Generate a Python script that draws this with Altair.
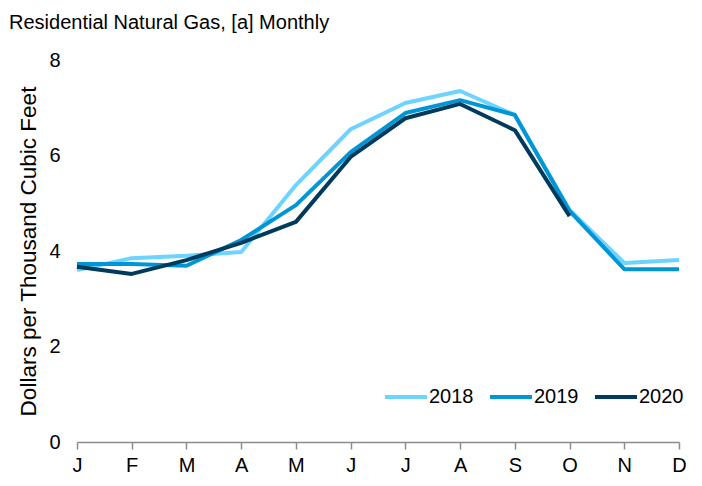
import altair as alt
import pandas as pd

months = ["J", "F", "M", "A", "M", "J", "J", "A", "S", "O", "N", "D"]
years = ["2018", "2019", "2020"]
colors = ["#6DD3FF", "#0096D6", "#003A5D"]
v2018 = [3.60, 3.85, 3.90, 3.98, 5.38, 6.55, 7.10, 7.35, 6.85, 4.86, 3.75, 3.81]
v2019 = [3.73, 3.73, 3.69, 4.23, 4.96, 6.07, 6.89, 7.16, 6.85, 4.84, 3.62, 3.62]
v2020 = [3.67, 3.52, 3.81, 4.17, 4.61, 5.97, 6.78, 7.08, 6.53, 4.73]

rows = []
for yr, vals in zip(years, [v2018, v2019, v2020]):
    for i, v in enumerate(vals):
        rows.append({"m": i + 1, "year": yr, "value": v})
df = pd.DataFrame(rows)

FONT = "Liberation Sans"
FS = 20
label_arr = "[" + ",".join(f"'{m}'" for m in months) + "]"

lines = alt.Chart(df).mark_line(strokeWidth=4, strokeJoin="round").encode(
    x=alt.X("m:Q", scale=alt.Scale(domain=[1, 12], nice=False, zero=False),
            axis=alt.Axis(values=list(range(1, 13)), labelExpr=f"{label_arr}[datum.value-1]",
                          title=None, grid=False, domainColor="#8c8c8c", domainWidth=1.5,
                          tickColor="#8c8c8c", tickWidth=1.5, tickSize=7, labelPadding=6,
                          labelFlush=False, labelOverlap=False,
                          labelFont=FONT, labelFontSize=FS, labelColor="black")),
    y=alt.Y("value:Q", scale=alt.Scale(domain=[0, 8], nice=False),
            axis=alt.Axis(values=[0, 2, 4, 6, 8], title="Dollars per Thousand Cubic Feet",
                          grid=False, domain=False, ticks=False, labelPadding=17,
                          labelFont=FONT, labelFontSize=FS, labelColor="black",
                          titleFont=FONT, titleFontSize=22.5, titleFontWeight="normal",
                          titleColor="black", titlePadding=8)),
    color=alt.Color("year:N", scale=alt.Scale(domain=years, range=colors),
                    legend=alt.Legend(title=None, orient="none", direction="horizontal",
                                      legendX=306, legendY=314, symbolType="stroke",
                                      symbolSize=1764, symbolStrokeWidth=4,
                                      labelFont=FONT, labelFontSize=FS, labelColor="black",
                                      labelOffset=0, columnPadding=8)),
)

title = alt.Chart(pd.DataFrame({"t": ["Residential Natural Gas, [a] Monthly"]})).mark_text(
    align="left", baseline="alphabetic", font=FONT, fontSize=FS, color="black"
).encode(x=alt.value(-68), y=alt.value(-31), text="t:N")

chart = alt.layer(lines, title).properties(
    width=602, height=382,
    autosize=alt.AutoSizeParams(type="none"),
    padding={"left": 69, "top": 52, "right": 15, "bottom": 50},
).configure_view(stroke=None)

chart.save("out.html", embed_options={"renderer": "svg", "actions": False})
